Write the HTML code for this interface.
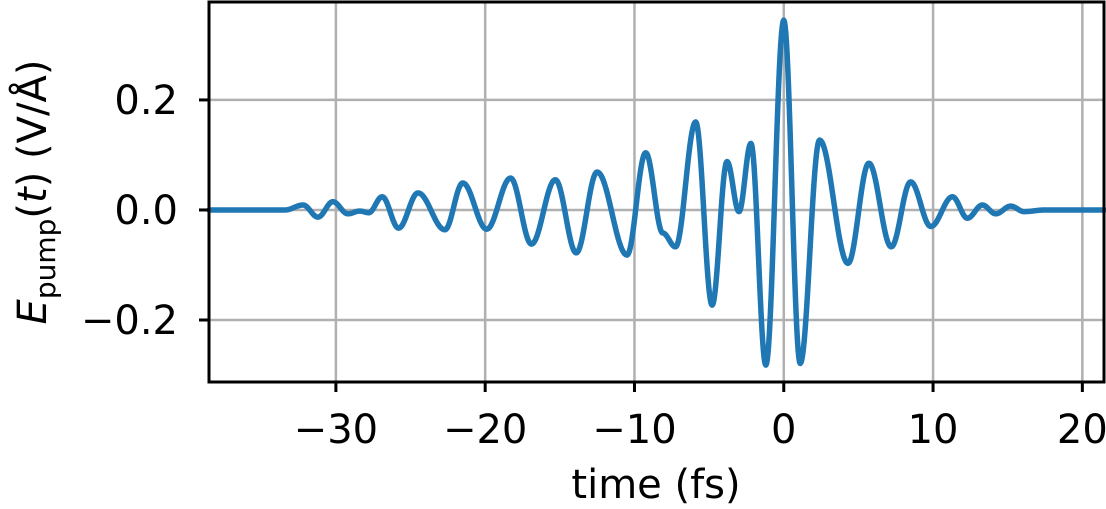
<!DOCTYPE html>
<html><head><meta charset="utf-8"><style>
html,body{margin:0;padding:0;background:#fff}
svg{display:block}
text{font-family:"DejaVu Sans","Liberation Sans",sans-serif;fill:#000}
</style></head><body>
<svg id="chart" width="1106" height="509" viewBox="0 0 1106 509" xmlns="http://www.w3.org/2000/svg">
<g id="grid"></g>
<path id="curve" fill="none" stroke="#1f77b4" stroke-width="5.5" stroke-linejoin="round" stroke-linecap="round"/>
<rect x="209" y="2" width="895" height="380" fill="none" stroke="#000" stroke-width="3"/>
<g id="ticks"></g>
<text x="656" y="498" font-size="40" text-anchor="middle">time (fs)</text>
<text transform="translate(46,192) rotate(-90)" font-size="40" text-anchor="middle"><tspan font-style="italic">E</tspan><tspan font-size="28" dy="9">pump</tspan><tspan dy="-9">(</tspan><tspan font-style="italic">t</tspan><tspan>) (V/Å)</tspan></text>
</svg>
<script>
const times = [-38.5,-33.4,-32.2,-31.2,-30.2,-29.2,-28.4,-27.8,-26.9,-25.8,-24.5,-22.7,-21.5,-19.9,-18.3,-16.9,-15.3,-13.9,-12.5,-10.5,-9.25,-8.1,-7.25,-5.9,-4.8,-3.8,-3.0,-2.2,-1.2,0.0,1.1,2.4,4.3,5.7,7.2,8.5,9.85,11.3,12.3,13.3,14.2,15.2,16.1,17.5,21.5];
const field = [0,0,0.009,-0.013,0.015,-0.007,-0.002,-0.005,0.024,-0.033,0.031,-0.036,0.049,-0.035,0.058,-0.062,0.055,-0.078,0.069,-0.082,0.104,-0.042,-0.067,0.160,-0.173,0.088,-0.003,0.121,-0.282,0.345,-0.279,0.127,-0.097,0.085,-0.067,0.051,-0.030,0.024,-0.015,0.009,-0.007,0.007,-0.003,0,0];
const xTicks = [-30,-20,-10,0,10,20];
const yTicks = [-0.2,0.0,0.2];
const yTickLabels = ["\u22120.2","0.0","0.2"];
const xTickLabels = ["\u221230","\u221220","\u221210","0","10","20"];

const X0=209,X1=1104,Y0=2,Y1=382,TMIN=-38.5,TMAX=21.45,EMIN=-0.3127,EMAX=0.378;
const sx=t=>X0+(t-TMIN)/(TMAX-TMIN)*(X1-X0);
const sy=e=>Y1-(e-EMIN)/(EMAX-EMIN)*(Y1-Y0);
const NS="http://www.w3.org/2000/svg";
const grid=document.getElementById('grid'), ticks=document.getElementById('ticks');
function mk(tag,attrs,parent){const el=document.createElementNS(NS,tag);for(const k in attrs)el.setAttribute(k,attrs[k]);parent.appendChild(el);return el;}
xTicks.forEach((t,i)=>{
  const x=sx(t);
  const g=mk('line',{x1:x,x2:x,y1:Y0,y2:Y1,stroke:'#b0b0b0','stroke-width':2.5},grid);
  
  
  const tk=mk('line',{x1:x,x2:x,y1:Y1,y2:Y1+10,stroke:'#000','stroke-width':3},ticks);
  
  
  const tx=mk('text',{x:x,y:443,'font-size':40,'text-anchor':'middle'},ticks);
  tx.textContent=xTickLabels[i];
  
  
});
yTicks.forEach((e,i)=>{
  const y=sy(e);
  const g=mk('line',{x1:X0,x2:X1,y1:y,y2:y,stroke:'#b0b0b0','stroke-width':2.5},grid);
  
  
  const tk=mk('line',{x1:X0-10,x2:X0,y1:y,y2:y,stroke:'#000','stroke-width':3},ticks);
  
  
  const tx=mk('text',{x:178,y:y+14,'font-size':40,'text-anchor':'end'},ticks);
  tx.textContent=yTickLabels[i];
  
  
});
let d='';
for(let i=0;i<times.length-1;i++){
  const ta=times[i],tb=times[i+1],ea=field[i],eb=field[i+1];
  const n=24;
  for(let k=(i===0?0:1);k<=n;k++){
    const u=k/n, t=ta+(tb-ta)*u, e=ea+(eb-ea)*(1-Math.cos(Math.PI*u))/2;
    d+=(d?'L':'M')+sx(t).toFixed(2)+','+sy(e).toFixed(2);
  }
}
document.getElementById('curve').setAttribute('d',d);
</script>
</body></html>
